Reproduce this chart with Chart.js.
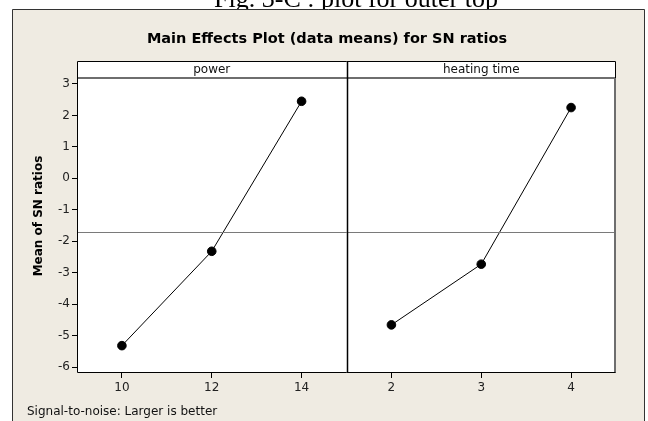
<!DOCTYPE html>
<html>
<head>
<meta charset="utf-8">
<script src="https://cdn.jsdelivr.net/npm/chart.js@4/dist/chart.umd.min.js"></script>
<style>
  html, body { margin: 0; padding: 0; background: #fff; }
  #wrap { width: 648px; height: 421px; position: relative; }
</style>
</head>
<body>
<div id="wrap"><canvas id="mainEffects" width="648" height="421"></canvas></div>
<script>
// valores
const powerLevels = [10, 12, 14];
const powerSN = [-5.32, -2.32, 2.45];
const timeLevels = [2, 3, 4];
const timeSN = [-4.66, -2.73, 2.25];
const yTicks = [-6, -5, -4, -3, -2, -1, 0, 1, 2, 3];
const factorNames = ['power', 'heating time'];

const tahoma = 'Tahoma, "DejaVu Sans", Verdana, sans-serif';

const allSN = powerSN.concat(timeSN);
const grandMean = allSN.reduce((a, b) => a + b, 0) / allSN.length;

const toPoints = (xs, ys) => xs.map((x, i) => ({ x: x, y: ys[i] }));

// fondo, marco, tiras y textos al estilo Minitab
const minitabFrame = {
    id: 'minitabFrame',
    beforeDraw(chart) {
        const c = chart.ctx;
        const area = chart.chartArea;
        c.save();
        c.fillStyle = '#ffffff';
        c.fillRect(0, 0, chart.width, chart.height);

        // texto cortado de la figura anterior
        c.fillStyle = '#000';
        c.font = '26px "Liberation Serif", "Times New Roman", serif';
        c.textAlign = 'center';
        c.textBaseline = 'alphabetic';
        c.fillText('Fig. 3-C : plot for outer top', 356, 7);

        // panel beige
        c.fillStyle = '#efebe2';
        c.fillRect(12, 9, 633, chart.height - 9);
        c.strokeStyle = '#333';
        c.lineWidth = 1;
        c.beginPath();
        c.moveTo(12.5, chart.height);
        c.lineTo(12.5, 9.5);
        c.lineTo(644.5, 9.5);
        c.lineTo(644.5, chart.height);
        c.stroke();

        // area del grafico y tira de encabezado
        c.fillStyle = '#ffffff';
        c.fillRect(area.left, 61, area.right - area.left, area.bottom - 61);

        c.fillStyle = '#000';
        c.font = 'bold 14.5px ' + tahoma;
        c.fillText('Main Effects Plot (data means) for SN ratios', 327, 43);
        c.restore();
    },
    afterDraw(chart) {
        const c = chart.ctx;
        const area = chart.chartArea;
        const xp = chart.scales.xPower;
        const xt = chart.scales.xTime;
        const y = chart.scales.y;
        c.save();

        // linea de la media global
        const ym = Math.round(y.getPixelForValue(grandMean)) + 0.5;
        c.strokeStyle = '#7a7a7a';
        c.lineWidth = 1;
        c.beginPath();
        c.moveTo(area.left, ym);
        c.lineTo(area.right, ym);
        c.stroke();

        // marco
        c.strokeStyle = '#000';
        c.beginPath();
        c.moveTo(area.left + 0.5, 61.5);
        c.lineTo(area.right - 0.5, 61.5);
        c.lineTo(area.right - 0.5, area.bottom - 0.5);
        c.lineTo(area.left + 0.5, area.bottom - 0.5);
        c.closePath();
        c.stroke();
        c.strokeStyle = '#6e6e6e';
        c.lineWidth = 2;
        c.beginPath();
        c.moveTo(area.left + 1, area.top);
        c.lineTo(area.right - 1, area.top);
        c.stroke();
        c.beginPath();
        c.moveTo(area.right - 1, area.top);
        c.lineTo(area.right - 1, area.bottom - 1);
        c.stroke();

        // divisor entre paneles
        const xd = Math.round(xp.right) + 0.5;
        c.strokeStyle = '#000';
        c.lineWidth = 1.5;
        c.beginPath();
        c.moveTo(xd, 61);
        c.lineTo(xd, area.bottom);
        c.stroke();

        // nombres de los factores
        c.fillStyle = '#111';
        c.font = '12px ' + tahoma;
        c.textAlign = 'center';
        c.textBaseline = 'middle';
        c.fillText(factorNames[0], (xp.left + xp.right) / 2, 70);
        c.fillText(factorNames[1], (xt.left + xt.right) / 2, 70);

        // titulo del eje y
        c.save();
        c.translate(39, 216);
        c.rotate(-Math.PI / 2);
        c.font = 'bold 12px ' + tahoma;
        c.fillStyle = '#000';
        c.fillText('Mean of SN ratios', 0, 0);
        c.restore();

        // nota al pie
        c.textAlign = 'left';
        c.font = '12px ' + tahoma;
        c.fillStyle = '#111';
        c.fillText('Signal-to-noise: Larger is better', 27, 412);
        c.restore();
    }
};

const tickFont = { family: tahoma, size: 12 };

new Chart(document.getElementById('mainEffects'), {
    type: 'scatter',
    data: {
        datasets: [
            {
                label: factorNames[0],
                data: toPoints(powerLevels, powerSN),
                xAxisID: 'xPower',
                showLine: true,
                borderColor: '#000',
                borderWidth: 1,
                backgroundColor: '#000',
                pointRadius: 4.3,
                pointHoverRadius: 4.3
            },
            {
                label: factorNames[1],
                data: toPoints(timeLevels, timeSN),
                xAxisID: 'xTime',
                showLine: true,
                borderColor: '#000',
                borderWidth: 1,
                backgroundColor: '#000',
                pointRadius: 4.3,
                pointHoverRadius: 4.3
            }
        ]
    },
    options: {
        responsive: false,
        animation: false,
        events: [],
        layout: {
            padding: { left: 0, top: 78, right: 32, bottom: 0 }
        },
        plugins: {
            legend: { display: false },
            tooltip: { enabled: false }
        },
        scales: {
            xPower: {
                type: 'linear',
                position: 'bottom',
                stack: 'panels',
                stackWeight: 1,
                min: 9,
                max: 15,
                afterBuildTicks: (s) => { s.ticks = powerLevels.map(v => ({ value: v })); },
                afterFit: (s) => { s.height = 48; },
                grid: { drawOnChartArea: false, drawTicks: true, tickLength: 5, tickColor: '#000' },
                border: { display: false },
                ticks: { font: tickFont, color: '#222', padding: 3, maxRotation: 0 }
            },
            xTime: {
                type: 'linear',
                position: 'bottom',
                stack: 'panels',
                stackWeight: 1,
                min: 1.5,
                max: 4.5,
                afterBuildTicks: (s) => { s.ticks = timeLevels.map(v => ({ value: v })); },
                afterFit: (s) => { s.height = 48; },
                grid: { drawOnChartArea: false, drawTicks: true, tickLength: 5, tickColor: '#000' },
                border: { display: false },
                ticks: { font: tickFont, color: '#222', padding: 3, maxRotation: 0 }
            },
            y: {
                type: 'linear',
                position: 'left',
                min: -6.19,
                max: 3.19,
                afterBuildTicks: (s) => { s.ticks = yTicks.map(v => ({ value: v })); },
                afterFit: (s) => { s.width = 77; },
                grid: { drawOnChartArea: false, drawTicks: true, tickLength: 5, tickColor: '#000' },
                border: { display: false },
                ticks: { font: tickFont, color: '#222', padding: 2 }
            }
        }
    },
    plugins: [minitabFrame]
});
</script>
</body>
</html>
